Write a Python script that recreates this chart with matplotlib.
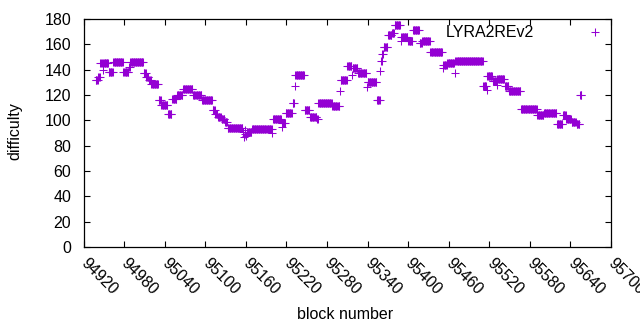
import numpy as np
import matplotlib
matplotlib.use("Agg")
import matplotlib.pyplot as plt
import matplotlib.transforms as mtransforms

# difficulty per block, stored as runs of equal values (first block, last block, difficulty)
run_first = [94938, 94942, 94945, 94948, 94949, 94957, 94964, 94979, 94987, 94989,
             95009, 95013, 95017, 95020, 95031, 95035, 95045, 95051, 95058, 95067,
             95082, 95095, 95111, 95115, 95119, 95124, 95129, 95133, 95156, 95157,
             95158, 95159, 95160, 95161, 95169, 95199, 95200, 95213, 95214, 95219,
             95229, 95232, 95233, 95247, 95255, 95265, 95267, 95288, 95299, 95300,
             95310, 95317, 95318, 95326, 95339, 95340, 95354, 95359, 95360, 95362,
             95364, 95370, 95376, 95380, 95389, 95390, 95400, 95407, 95417, 95421,
             95433, 95451, 95452, 95453, 95458, 95469, 95470, 95511, 95516, 95517,
             95525, 95531, 95532, 95543, 95549, 95567, 95591, 95601, 95620, 95629,
             95634, 95642, 95649, 95654]
run_last = [94941, 94944, 94947, 94948, 94956, 94963, 94978, 94986, 94988, 95008,
            95012, 95016, 95019, 95030, 95034, 95044, 95050, 95057, 95066, 95081,
            95094, 95110, 95114, 95118, 95123, 95128, 95132, 95155, 95156, 95157,
            95158, 95159, 95160, 95168, 95198, 95199, 95212, 95213, 95218, 95228,
            95231, 95232, 95246, 95254, 95264, 95266, 95287, 95298, 95299, 95309,
            95316, 95317, 95325, 95338, 95339, 95353, 95358, 95359, 95361, 95363,
            95369, 95375, 95379, 95388, 95389, 95399, 95406, 95416, 95420, 95432,
            95450, 95451, 95452, 95457, 95468, 95469, 95510, 95515, 95516, 95524,
            95530, 95531, 95542, 95548, 95566, 95590, 95600, 95619, 95628, 95633,
            95641, 95648, 95653, 95656]
run_diff = [132, 134, 145, 140, 145, 138, 146, 138, 142, 146,
            137, 134, 132, 129, 116, 112, 105, 117, 120, 125,
            120, 116, 108, 105, 103, 101, 99, 94, 91, 87,
            89, 92, 88, 91, 93, 90, 101, 95, 98, 106,
            114, 127, 136, 108, 103, 101, 114, 111, 123, 132,
            143, 136, 141, 137, 126, 130, 116, 139, 147, 152,
            158, 167, 169, 175, 163, 166, 163, 171, 161, 163,
            154, 144, 141, 144, 145, 137, 147, 127, 124, 135,
            131, 128, 133, 127, 123, 109, 104, 106, 97, 104,
            101, 99, 97, 120]

x_ticks = list(range(94920, 95701, 60))
y_ticks = list(range(0, 181, 20))

plt.rcParams["font.family"] = ["Liberation Sans", "DejaVu Sans"]
plt.rcParams["font.size"] = 11.5

blocks = np.concatenate([np.arange(a, b + 1) for a, b in zip(run_first, run_last)])
diffs = np.concatenate([np.full(b - a + 1, d) for a, b, d in zip(run_first, run_last, run_diff)])

fig = plt.figure(figsize=(6.4, 3.3), dpi=100)
ax = fig.add_axes([0.1306, 0.2515, 0.8241, 0.6909])

ax.plot(blocks, diffs, linestyle="none", marker="+", markersize=6.2,
        markeredgewidth=0.75, color="#9400d3", label="LYRA2REv2")

ax.set_xlim(94920, 95700)
ax.set_ylim(0, 180)
ax.set_xticks(x_ticks)
ax.set_yticks(y_ticks)
ax.set_xticklabels([str(t) for t in x_ticks], rotation=-45, ha="left", va="top",
                   rotation_mode="anchor")
ax.tick_params(direction="in", length=4, width=0.8, top=True, right=True)
ax.tick_params(axis="x", pad=6)
ax.tick_params(axis="y", pad=9)
for sp in ax.spines.values():
    sp.set_linewidth(0.9)

# nudge rotated labels a bit to the right, like the original
shift = mtransforms.ScaledTranslation(5 / 100, 0, fig.dpi_scale_trans)
for lbl in ax.get_xticklabels():
    lbl.set_transform(lbl.get_transform() + shift)

ax.set_xlabel("block number")
ax.set_ylabel("difficulty")
ax.xaxis.set_label_coords(0.496, -0.262)
ax.yaxis.set_label_coords(-0.116, 0.51)

ax.legend(loc="upper right", bbox_to_anchor=(0.992, 0.972), frameon=False,
          markerfirst=False, numpoints=1, handlelength=1.5, handletextpad=3.05,
          borderpad=0, borderaxespad=0)

fig.savefig("out.png", dpi=100)
